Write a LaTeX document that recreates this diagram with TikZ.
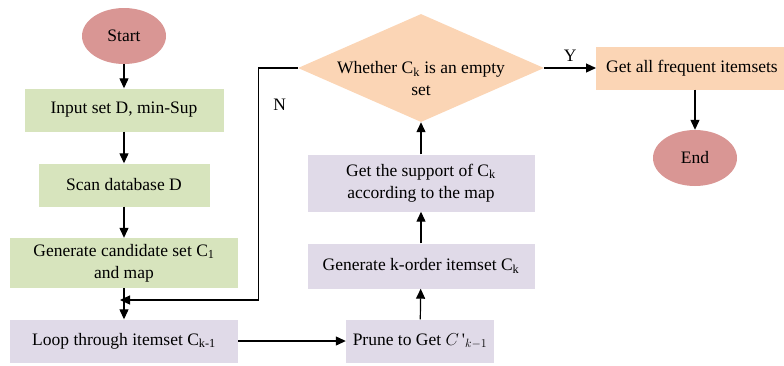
\documentclass[tikz,border=0pt]{standalone}
\usepackage{fontspec}
\setmainfont{Liberation Serif}
\usepackage{color}
\usetikzlibrary{arrows.meta,shapes.geometric,positioning}

\definecolor{termred}{RGB}{217,150,148}
\definecolor{stepgreen}{RGB}{215,228,189}
\definecolor{steppurple}{RGB}{224,218,232}
\definecolor{steppeach}{RGB}{251,213,181}

\begin{document}
\begin{tikzpicture}[x=1pt,y=-1pt,
  every node/.style={font=\fontsize{17.5}{22}\selectfont},
  term/.style={ellipse,fill=termred,minimum width=84pt,minimum height=56pt},
  greenbox/.style={rectangle,fill=stepgreen,minimum height=43pt},
  purplebox/.style={rectangle,fill=steppurple,minimum height=43pt},
  peachbox/.style={rectangle,fill=steppeach,minimum height=43pt},
  decision/.style={diamond,fill=steppeach,minimum width=246pt,minimum height=108pt,inner sep=0pt},
  arr/.style={line width=1.2pt,-{Triangle[length=10pt,width=9pt]}},
  lbl/.style={inner sep=0pt}]
\useasboundingbox (0,0) rectangle (784,365);

% left column
\node[term] (start) at (124,36) {Start};
\node[greenbox,minimum width=199pt] (input) at (124,110) {Input set D, min-Sup};
\node[greenbox,minimum width=171pt] (scan) at (124,185) {Scan database D};
\node[greenbox,minimum width=228pt,minimum height=50pt,align=center,inner sep=0pt] (cand) at (124,263)
  {Generate candidate set C\textsubscript{1}\\and map};
\node[purplebox,minimum width=228pt] (loop) at (124,341) {Loop through itemset C\textsubscript{k-1}};
\coordinate (merge) at (124,300);

% middle column
\node[purplebox,minimum width=148pt] (prune) at (420,341)
  {Prune to Get $C\mbox{\,\textquotesingle}_{k-1}$};
\node[purplebox,minimum width=227pt,minimum height=45pt] (korder) at (421,266)
  {Generate k-order itemset C\textsubscript{k}};
\node[purplebox,minimum width=227pt,minimum height=57pt,align=center,inner sep=0pt] (supp) at (421,183)
  {Get the support of C\textsubscript{k}\\according to the map};
\node[decision,label={[align=center,yshift=-11pt]center:Whether C\textsubscript{k} is an empty\\set}]
  (empty) at (421,68) {};

% right column
\node[peachbox,anchor=west,inner xsep=10pt] (freq) at (596,68) {Get all frequent itemsets};
\node[term] (end) at (695,158) {End};

% connectors
\draw[arr] (start) -- (input);
\draw[arr] (input) -- (scan);
\draw[arr] (scan) -- (cand);
\draw[arr] (cand) -- (loop);
\draw[arr] (loop) -- (prune);
\draw[arr] (prune) -- (korder);
\draw[arr] (korder) -- (supp);
\draw[arr] (supp) -- (empty);
\draw[arr] (empty.east) -- (freq.west) node[lbl,midway,above=6pt] {Y};
\draw[arr] (end.north |- freq.south) -- (end);
\draw[arr,shorten >=-4pt] (empty.west) -- ++(-39,0) |- (merge)
  node[lbl,pos=0.08,right=14pt] {N};
\end{tikzpicture}
\end{document}
